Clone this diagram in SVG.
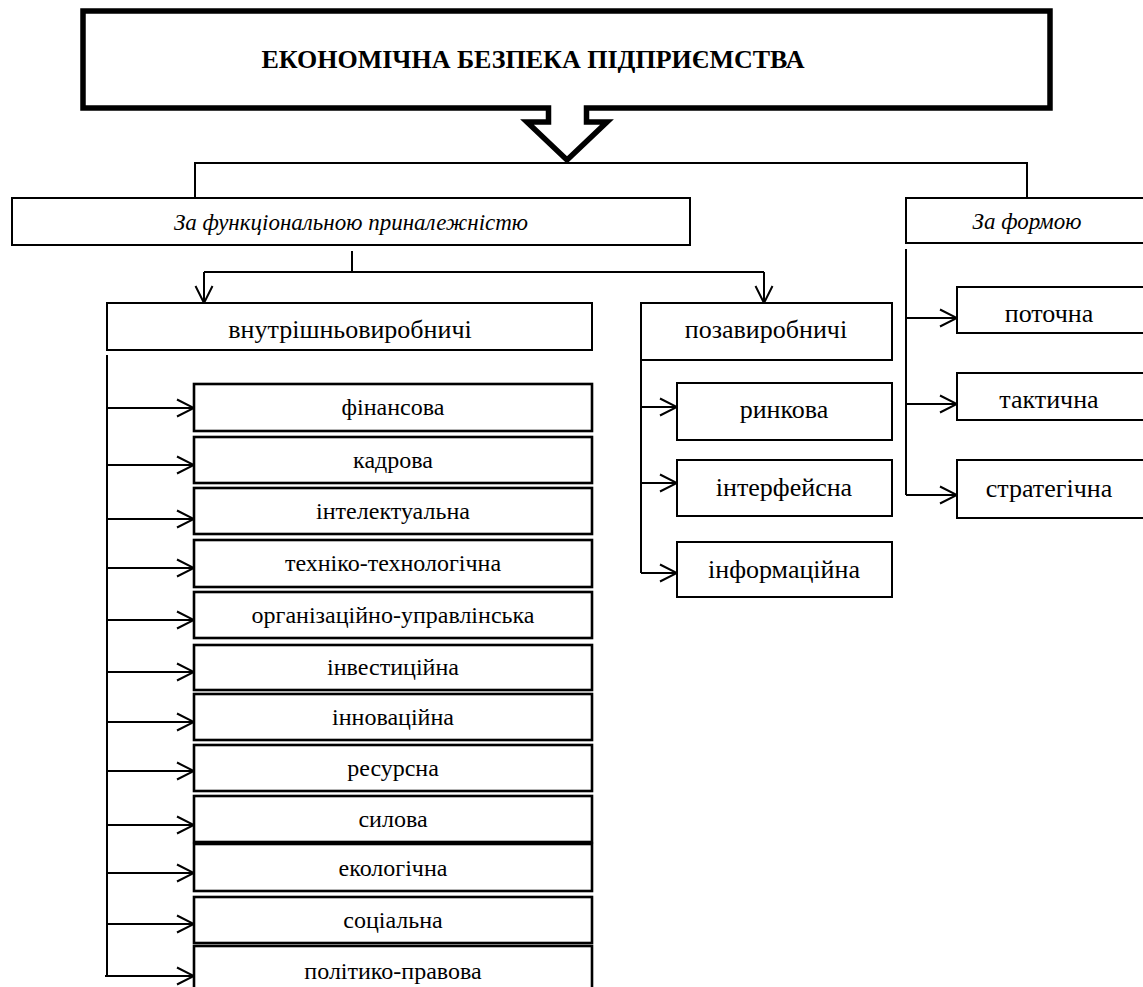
<svg xmlns="http://www.w3.org/2000/svg" width="1143" height="987" viewBox="0 0 1143 987">
<defs>
<marker id="arr" viewBox="0 0 20 20" refX="19" refY="10" markerWidth="20" markerHeight="20" markerUnits="userSpaceOnUse" orient="auto">
<path d="M2,1.5 L19,10 L2,18.5" fill="none" stroke="#000" stroke-width="2"/>
</marker>
<style>
.bx{fill:#fff;stroke:#000;stroke-width:2}
.lb{fill:#fff;stroke:#000;stroke-width:2.6}
.ln{fill:none;stroke:#000;stroke-width:2}
.ar{fill:none;stroke:#000;stroke-width:2;marker-end:url(#arr)}
text{font-family:'Liberation Serif','DejaVu Serif',serif;fill:#000;text-anchor:middle}
.t{font-size:26px}
.s{font-size:24px}
.i{font-size:23px;font-style:italic}
.h{font-size:26px;font-weight:bold}
</style>
</defs>
<rect width="1143" height="987" fill="#fff"/>
<g id="header">
<path d="M548.5,108 H83 V11 H1050 V108 H586.5 V122 H607 L567,160 L527,122 H548.5 Z" fill="#fff" stroke="#000" stroke-width="5.5" stroke-linejoin="miter"/>
<text class="h" x="533" y="68" font-family="Liberation Serif">ЕКОНОМІЧНА БЕЗПЕКА ПІДПРИЄМСТВА</text>
</g>
<g id="connectors">
<path class="ln" d="M195,198 V163 H1027 V198"/>
<path class="ln" d="M352,251 V272"/>
<path class="ln" d="M204,272 H764"/>
<path class="ar" d="M204,272 V303"/>
<path class="ar" d="M764,272 V303"/>
<path class="ln" d="M906,249 V495"/>
<path class="ar" d="M906,318 H957"/>
<path class="ar" d="M906,404 H957"/>
<path class="ar" d="M906,495 H957"/>
<path class="ln" d="M641,360 V573"/>
<path class="ar" d="M641,407 H677"/>
<path class="ar" d="M641,483 H677"/>
<path class="ar" d="M641,573 H677"/>
<path class="ln" d="M107,355 V976"/>
<path class="ar" d="M107,408 H194"/>
<path class="ar" d="M107,465 H194"/>
<path class="ar" d="M107,519 H194"/>
<path class="ar" d="M107,568 H194"/>
<path class="ar" d="M107,620 H194"/>
<path class="ar" d="M107,672 H194"/>
<path class="ar" d="M107,722 H194"/>
<path class="ar" d="M107,771 H194"/>
<path class="ar" d="M107,825 H194"/>
<path class="ar" d="M107,873 H194"/>
<path class="ar" d="M107,924 H194"/>
<path class="ar" d="M105,976 H194"/>
</g>
<g id="func">
<rect class="bx" x="12" y="198" width="678" height="47"/>
<text class="i" x="351" y="230">За функціональною приналежністю</text>
</g>
<g id="forma">
<rect class="bx" x="906" y="198" width="250" height="45"/>
<text class="i" x="1027" y="229">За формою</text>
</g>
<g id="vnutr">
<rect class="bx" x="107" y="303" width="485" height="47"/>
<text class="t" x="350" y="338">внутрішньовиробничі</text>
</g>
<g id="poza">
<rect class="bx" x="641" y="303" width="251" height="57"/>
<text class="t" x="766" y="338">позавиробничі</text>
</g>
<g id="potochna">
<rect class="bx" x="957" y="287" width="200" height="46"/>
<text class="t" x="1049" y="322">поточна</text>
</g>
<g id="taktychna">
<rect class="bx" x="957" y="373" width="200" height="47"/>
<text class="t" x="1049" y="408">тактична</text>
</g>
<g id="stratehichna">
<rect class="bx" x="957" y="460" width="200" height="58"/>
<text class="t" x="1049" y="497">стратегічна</text>
</g>
<g id="rynkova">
<rect class="bx" x="677" y="383" width="215" height="57"/>
<text class="t" x="784" y="418">ринкова</text>
</g>
<g id="interfeisna">
<rect class="bx" x="677" y="460" width="215" height="56"/>
<text class="t" x="784" y="496">інтерфейсна</text>
</g>
<g id="informatsiina">
<rect class="bx" x="677" y="542" width="215" height="55"/>
<text class="t" x="784" y="578">інформаційна</text>
</g>
<g id="finansova">
<rect class="lb" x="194" y="384" width="398" height="47"/>
<text class="s" x="393" y="415">фінансова</text>
</g>
<g id="kadrova">
<rect class="lb" x="194" y="437" width="398" height="46"/>
<text class="s" x="393" y="468">кадрова</text>
</g>
<g id="intelektualna">
<rect class="lb" x="194" y="488" width="398" height="46"/>
<text class="s" x="393" y="519">інтелектуальна</text>
</g>
<g id="tekhniko">
<rect class="lb" x="194" y="540" width="398" height="47"/>
<text class="s" x="393" y="571">техніко-технологічна</text>
</g>
<g id="orhanizatsiino">
<rect class="lb" x="194" y="592" width="398" height="46"/>
<text class="s" x="393" y="623">організаційно-управлінська</text>
</g>
<g id="investytsiina">
<rect class="lb" x="194" y="645" width="398" height="45"/>
<text class="s" x="393" y="675">інвестиційна</text>
</g>
<g id="innovatsiina">
<rect class="lb" x="194" y="694" width="398" height="46"/>
<text class="s" x="393" y="725">інноваційна</text>
</g>
<g id="resursna">
<rect class="lb" x="194" y="745" width="398" height="46"/>
<text class="s" x="393" y="776">ресурсна</text>
</g>
<g id="sylova">
<rect class="lb" x="194" y="796" width="398" height="46"/>
<text class="s" x="393" y="827">силова</text>
</g>
<g id="ekolohichna">
<rect class="lb" x="194" y="844" width="398" height="47"/>
<text class="s" x="393" y="876">екологічна</text>
</g>
<g id="sotsialna">
<rect class="lb" x="194" y="897" width="398" height="46"/>
<text class="s" x="393" y="928">соціальна</text>
</g>
<g id="polityko">
<rect class="lb" x="194" y="946" width="398" height="60"/>
<text class="s" x="393" y="979">політико-правова</text>
</g>
</svg>
